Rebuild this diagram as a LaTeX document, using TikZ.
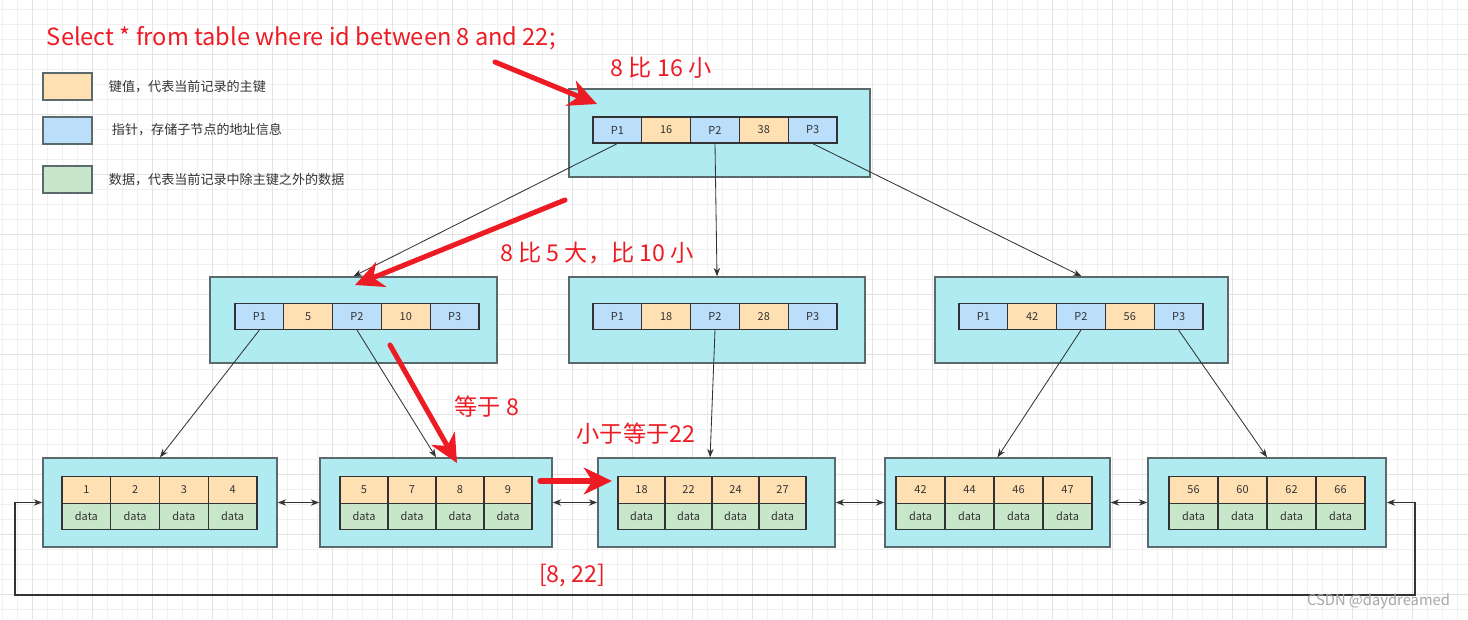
\documentclass[tikz,border=0pt]{standalone}
\usepackage{fontspec}
\setmainfont{Noto Sans CJK SC}
\usetikzlibrary{arrows.meta}
\definecolor{pagefill}{HTML}{B0EBF2}
\definecolor{pageline}{HTML}{5A6A6C}
\definecolor{keyorange}{HTML}{FFE0B2}
\definecolor{ptrblue}{HTML}{BBDEFB}
\definecolor{datagreen}{HTML}{C8E6C9}
\definecolor{cellline}{HTML}{333333}
\definecolor{textgray}{HTML}{333333}
\definecolor{hopred}{HTML}{ED1C24}
\definecolor{gridminor}{HTML}{F0F0F0}
\definecolor{gridmajor}{HTML}{E2E2E2}
\tikzset{
  minor/.style={draw=gridminor, line width=0.7pt},
  major/.style={draw=gridmajor, line width=0.7pt},
  page/.style={
    draw=pageline,
    fill=pagefill,
    line width=1pt,
    inner sep=0pt
  },
  cell/.style={
    draw=cellline,
    line width=0.8pt,
    minimum height=0.65cm,
    inner sep=0pt,
    text=textgray,
    font=\fontsize{7.8}{9}\selectfont
  },
  ptr/.style={cell, fill=ptrblue},
  key/.style={cell, fill=keyorange},
  val/.style={cell, fill=datagreen},
  swatch/.style={
    draw=pageline,
    line width=1pt,
    minimum width=1.225cm,
    minimum height=0.675cm,
    inner sep=0pt
  },
  legendtext/.style={anchor=west, text=textgray, font=\fontsize{9.3}{11}\selectfont},
  tree/.style={draw=cellline, line width=0.6pt, -{Stealth[length=6pt,width=4.5pt]}},
  link/.style={draw=cellline, line width=0.8pt, {Stealth[length=6pt,width=4.5pt]}-{Stealth[length=6pt,width=4.5pt]}},
  hop/.style={draw=hopred, line width=3.6pt, line cap=round, -{Stealth[length=20pt,width=19pt,inset=6pt]}},
  note/.style={text=hopred, font=\fontsize{16.5}{19}\selectfont}
}

\begin{document}
\begin{tikzpicture}[x=0.025cm, y=-0.025cm]
  \useasboundingbox (0,0) rectangle (1468,619);
  % drawing grid
  \foreach \g in {2,17,...,1467} \draw[minor] (\g,0) -- (\g,619);
  \foreach \g in {9,24,...,619} \draw[minor] (0,\g) -- (1468,\g);
  \foreach \g in {32,92,...,1467} \draw[major] (\g,0) -- (\g,619);
  \foreach \g in {54,114,...,619} \draw[major] (0,\g) -- (1468,\g);

  % query and legend
  \node[anchor=west, text=hopred, font=\fontsize{16.8}{20}\selectfont] (query) at (42,38) {Select * from table where id between 8 and 22;};
  \node[swatch, fill=keyorange] (swkey) at (67.5,86.5) {};
  \node[swatch, fill=ptrblue] (swptr) at (67.5,130.5) {};
  \node[swatch, fill=datagreen] (swval) at (67.5,179.5) {};
  \node[legendtext] at (104,87) {键值，代表当前记录的主键};
  \node[legendtext] at (107,130) {指针，存储子节点的地址信息};
  \node[legendtext] at (104,180) {数据，代表当前记录中除主键之外的数据};

  % index pages
  \node[page, minimum width=7.525cm, minimum height=2.2cm] (rt) at (719.5,133) {};
  \node[page, minimum width=7.175cm, minimum height=2.15cm] (ml) at (353.5,320) {};
  \node[page, minimum width=7.4cm, minimum height=2.15cm] (mc) at (717,320) {};
  \node[page, minimum width=7.325cm, minimum height=2.15cm] (mr) at (1081.5,320) {};
  \foreach \n/\x/\y/\labels in {rt/593/130/{P1,16,P2,38,P3}, ml/235/316.5/{P1,5,P2,10,P3},
      mc/593/316.5/{P1,18,P2,28,P3}, mr/959/316.5/{P1,42,P2,56,P3}} {
    \foreach \t [count=\j] in \labels {
      \ifodd\j \def\kind{ptr}\else\def\kind{key}\fi
      \pgfmathsetmacro{\cx}{\x + 24.4 + 48.8*(\j-1)}
      \node[\kind, minimum width=1.22cm] (\n\j) at (\cx,\y) {\t};
    }
  }

  % leaf pages
  \node[page, minimum width=5.85cm, minimum height=2.225cm] (lf1) at (160,502.5) {};
  \node[page, minimum width=5.8cm, minimum height=2.225cm] (lf2) at (436,502.5) {};
  \node[page, minimum width=5.925cm, minimum height=2.225cm] (lf3) at (716.5,502.5) {};
  \node[page, minimum width=5.625cm, minimum height=2.225cm] (lf4) at (997.5,502.5) {};
  \node[page, minimum width=5.95cm, minimum height=2.225cm] (lf5) at (1267,502.5) {};
  \foreach \n/\x/\w/\keys in {1/62/48.75/{1,2,3,4}, 2/340/48/{5,7,8,9}, 3/618/47/{18,22,24,27},
      4/896/49/{42,44,46,47}, 5/1169/49/{56,60,62,66}} {
    \pgfmathsetmacro{\cw}{\w*0.025}
    \foreach \k [count=\j] in \keys {
      \pgfmathsetmacro{\cx}{\x + \w/2 + \w*(\j-1)}
      \node[key, minimum width=\cw cm, minimum height=0.66cm] (lf\n k\j) at (\cx,490) {\k};
      \node[val, minimum width=\cw cm, minimum height=0.66cm] (lf\n d\j) at (\cx,516.5) {data};
    }
  }

  % pointers
  \draw[tree] (rt1.south) -- (ml.north);
  \draw[tree] (rt3.south) -- (mc.north);
  \draw[tree] (rt5.south) -- (mr.north);
  \draw[tree] (ml1.south) -- (lf1.north);
  \draw[tree] (ml3.south) -- (lf2.north);
  \draw[tree] (mc3.south) -- ([xshift=-0.16cm]lf3.north);
  \draw[tree] (mr3.south) -- (lf4.north);
  \draw[tree] (mr5.south) -- (lf5.north);

  % leaf chain
  \foreach \a/\b in {1/2, 2/3, 3/4, 4/5} \draw[link] (lf\a.east) -- (lf\b.west);
  \coordinate (loopL) at (15,595);
  \coordinate (loopR) at (1415,595);
  \draw[link] (lf1.west) -| (loopL) -- (loopR) |- (lf5.east);

  % search path
  \coordinate (h1a) at (495,62);   \coordinate (h1b) at (597,104);
  \coordinate (h2a) at (565,200);  \coordinate (h2b) at (355,285);
  \coordinate (h3a) at (390,345);  \coordinate (h3b) at (457,463);
  \coordinate (h4a) at (540,481);  \coordinate (h4b) at (612,481);
  \draw[hop] (h1a) -- (h1b);
  \draw[hop] (h2a) -- (h2b);
  \draw[hop] (h3a) -- (h3b);
  \draw[hop] (h4a) -- (h4b);

  \node[note] (n1) at (661,68) {8 比 16 小};
  \node[note] (n2) at (597,253) {8 比 5 大，比 10 小};
  \node[note] (n3) at (487,407) {等于 8};
  \node[note] (n4) at (636,434) {小于等于22};
  \node[note] (n5) at (572,576) {[8, 22]};

  \node[anchor=east, text=gray!70, font=\fontsize{10.5}{12}\selectfont] (mark) at (1455,601) {CSDN @daydreamed};
\end{tikzpicture}
\end{document}
